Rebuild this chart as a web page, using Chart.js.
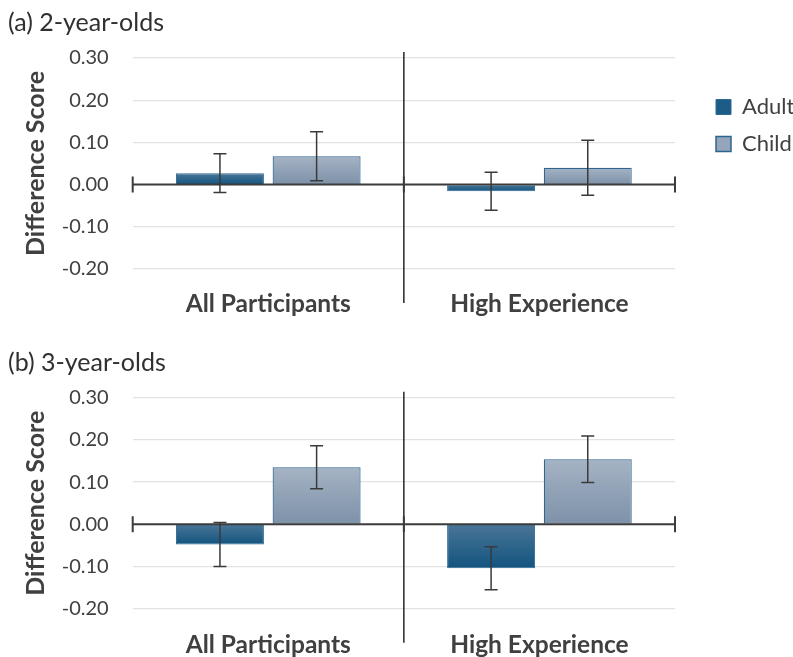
<!DOCTYPE html>
<html><head><meta charset="utf-8">
<script src="https://cdn.jsdelivr.net/npm/chart.js@4/dist/chart.umd.min.js"></script>
<style>
html,body{margin:0;padding:0;background:#fff;}
#wrap{position:relative;width:793px;height:657px;}
.box{position:absolute;left:0;width:793px;}
</style></head><body>
<div id="wrap">
<div class="box" style="top:0;height:330px"><canvas id="c1"></canvas></div>
<div class="box" style="top:330px;height:327px"><canvas id="c2"></canvas></div>
</div>
<script>
// ---- data ----
const categories = ['All Participants', 'High Experience'];
const seriesNames = ['Adult', 'Child'];
const yTicks = [-0.20, -0.10, 0.00, 0.10, 0.20, 0.30];
const panelTitles = ['(a) 2-year-olds', '(b) 3-year-olds'];
const axisTitle = 'Difference Score';

const twoAdult = [0.027, -0.016];
const twoAdultErr = [0.046, 0.045];
const twoChild = [0.067, 0.040];
const twoChildErr = [0.058, 0.065];

const threeAdult = [-0.048, -0.104];
const threeAdultErr = [0.052, 0.051];
const threeChild = [0.135, 0.154];
const threeChildErr = [0.051, 0.055];

// ---- styles ----
const TXT = '#404040';
const FONT = 'Lato';

function grad(topC, botC) {
  return (c) => {
    if (c.type !== 'data') return botC;
    const ch = c.chart, ys = ch.scales.y;
    if (!ys || !ch.chartArea || !c.parsed) return botC;
    const v = c.parsed.y;
    const p0 = ys.getPixelForValue(Math.max(v, 0));
    const p1 = ys.getPixelForValue(Math.min(v, 0));
    if (!isFinite(p0) || !isFinite(p1) || Math.abs(p1 - p0) < 0.5) return botC;
    const g = ch.ctx.createLinearGradient(0, p0, 0, p1);
    g.addColorStop(0, topC);
    g.addColorStop(1, botC);
    return g;
  };
}

const decor = {
  id: 'decor',
  afterLayout(chart) {
    const lg = chart.legend;
    if (lg && lg.options.display) {
      const dx = 716 - lg.options.labels.padding - lg.left;
      lg.left += dx; lg.right += dx;
      const dy = 81 - lg.top;
      lg.top += dy; lg.bottom += dy;
    }
  },
  afterDatasetsDraw(chart) {
    const {ctx, chartArea: a, scales: {x, y}} = chart;
    const y0 = y.getPixelForValue(0);
    const xm = x.getPixelForValue(0.5);
    ctx.save();
    // separator
    ctx.strokeStyle = '#262626'; ctx.lineWidth = 1.5;
    ctx.beginPath(); ctx.moveTo(xm, a.top - 6); ctx.lineTo(xm, a.bottom + 34); ctx.stroke();
    // zero line with ticks
    ctx.strokeStyle = '#3c3c3c'; ctx.lineWidth = 2;
    ctx.beginPath(); ctx.moveTo(a.left, y0); ctx.lineTo(a.right, y0);
    [a.left, xm, a.right].forEach(px => { ctx.moveTo(px, y0 - 8); ctx.lineTo(px, y0 + 8); });
    ctx.stroke();
    // error bars
    ctx.strokeStyle = '#3a3a3a'; ctx.lineWidth = 1.5;
    chart.data.datasets.forEach((ds, i) => {
      const meta = chart.getDatasetMeta(i);
      meta.data.forEach((bar, j) => {
        const v = ds.data[j], e = ds.errors[j];
        const yt = y.getPixelForValue(v + e), yb = y.getPixelForValue(v - e);
        const xc = bar.x;
        ctx.beginPath();
        ctx.moveTo(xc, yt); ctx.lineTo(xc, yb);
        ctx.moveTo(xc - 6.5, yt); ctx.lineTo(xc + 6.5, yt);
        ctx.moveTo(xc - 6.5, yb); ctx.lineTo(xc + 6.5, yb);
        ctx.stroke();
      });
    });
    ctx.restore();
  }
};

function makeChart(id, title, adult, adultErr, child, childErr, L) {
  return new Chart(document.getElementById(id), {
    type: 'bar',
    data: {
      labels: categories,
      datasets: [
        { label: seriesNames[0], data: adult, errors: adultErr,
          backgroundColor: grad('#4a7597', '#12547f'), borderColor: '#2f6a94', borderWidth: 1,
          categoryPercentage: 0.713, barPercentage: 0.91 },
        { label: seriesNames[1], data: child, errors: childErr,
          backgroundColor: grad('#a5b3c4', '#7d91a8'), borderColor: '#2e6590', borderWidth: 1.2,
          categoryPercentage: 0.713, barPercentage: 0.91 }
      ]
    },
    options: {
      responsive: true, maintainAspectRatio: false, animation: false, devicePixelRatio: 1,
      layout: { padding: { left: 8, right: 118, top: 0, bottom: 0 } },
      plugins: {
        tooltip: { enabled: false },
        title: { display: true, text: title, align: 'start', color: '#303030',
          font: { family: FONT, size: 25, weight: 'normal' },
          padding: { top: L.titleTop, bottom: L.titleBottom } },
        legend: {
          display: L.legend, position: 'chartArea', align: 'start',
          labels: {
            boxWidth: 15, boxHeight: 15, padding: 15, color: TXT,
            font: { family: FONT, size: 22 },
            generateLabels: () => [
              { text: seriesNames[0], fillStyle: '#1d5c87', strokeStyle: '#2f6a94', lineWidth: 1, hidden: false, datasetIndex: 0, fontColor: TXT },
              { text: seriesNames[1], fillStyle: '#95a6ba', strokeStyle: '#2e6590', lineWidth: 1.5, hidden: false, datasetIndex: 1, fontColor: TXT }
            ]
          }
        }
      },
      scales: {
        x: {
          offset: true,
          grid: { display: false, drawTicks: false },
          border: { display: false },
          ticks: { padding: L.xPad, color: TXT, font: { family: FONT, size: 24.5, weight: 'bold' } },
          afterFit: (s) => { s.height = L.xH; }
        },
        y: {
          min: -0.2, max: 0.3,
          afterBuildTicks: (s) => { s.ticks = yTicks.map(v => ({ value: v })); },
          afterFit: (s) => { s.width = 124.7; },
          grid: { color: '#e2e2e2', lineWidth: 1.3, drawTicks: false },
          border: { display: false },
          ticks: { padding: 24, color: TXT, font: { family: FONT, size: 20 },
            callback: (v) => Number(v).toFixed(2) },
          title: { display: true, text: axisTitle, color: TXT,
            font: { family: FONT, size: 25, weight: 'bold' },
            padding: { top: 13, bottom: 0 } }
        }
      }
    },
    plugins: [decor]
  });
}

makeChart('c1', panelTitles[0], twoAdult, twoAdultErr, twoChild, twoChildErr,
  { titleTop: 8, titleBottom: 20, xPad: 20, xH: 61, legend: true });
makeChart('c2', panelTitles[1], threeAdult, threeAdultErr, threeChild, threeChildErr,
  { titleTop: 18.3, titleBottom: 19.4, xPad: 22, xH: 48.3, legend: false });
</script>
</body></html>
